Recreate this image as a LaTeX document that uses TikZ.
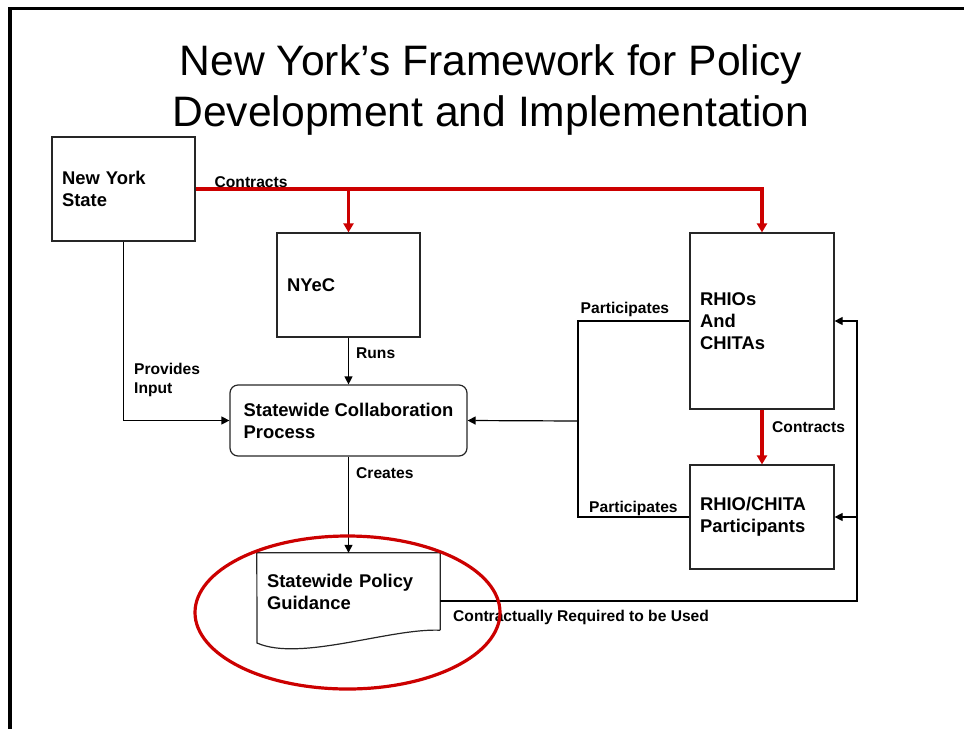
\documentclass[tikz,border=0pt]{standalone}
\usepackage{fontspec}
\setmainfont{Liberation Sans}
\usetikzlibrary{arrows.meta}

\definecolor{accent}{RGB}{204,0,0}
\newcommand\boxfont{\bfseries\fontsize{18.4}{22}\selectfont}
\newcommand\tagfont{\bfseries\fontsize{15.6}{19}\selectfont}
\newcommand\headfont{\fontsize{42.6}{50}\selectfont}

\begin{document}
\begin{tikzpicture}[x=1pt,y=-1pt,
  boxline/.style={draw=black!85, line width=1.2pt},
  stepbox/.style={boxline, align=left, font=\boxfont, inner xsep=10pt, inner ysep=0pt},
  tag/.style={font=\tagfont, anchor=base west, inner sep=0pt, align=left},
  flow/.style={draw=black, line width=1.2pt, -{Triangle[length=8pt,width=8pt]}},
  plain/.style={draw=black, line width=1.2pt},
  contract/.style={draw=accent, line width=3.4pt, -{Triangle[length=9pt,width=10pt]}},
]
\useasboundingbox (0,0) rectangle (964,729);

% frame
\draw[line width=3.8pt] (964,8.5) -- (10,8.5) -- (10,729);

% heading
\node[font=\headfont, anchor=base, inner sep=0pt] (head1) at (491,75.5) {New York’s Framework for Policy};
\node[font=\headfont, anchor=base, inner sep=0pt] (head2) at (491,126) {Development and Implementation};

% boxes
\node[stepbox, text width=123pt, minimum height=104pt] (nys) at (123.5,189) {New York\\State};
\node[stepbox, text width=123pt, minimum height=104pt] (nyec) at (348.5,285) {NYeC};
\node[stepbox, text width=124pt, minimum height=176pt] (rhio) at (762,321) {RHIOs\\And\\CHITAs};
\node[stepbox, text width=124pt, minimum height=104pt] (rhiop) at (762,517) {RHIO/CHITA\\Participants};
\node[boxline, rounded corners=8pt, align=left, font=\boxfont, minimum width=237pt, minimum height=71pt, inner sep=0pt] (scp) at (348.5,420.5) {Statewide Collaboration\\Process};
\node[align=left, font=\boxfont, text width=163pt, inner xsep=10pt, inner ysep=0pt, minimum height=77pt] (spg) at (348.5,591.5) {Statewide Policy\\Guidance};
% document outline with wavy lower edge
\draw[boxline] (spg.south east) -- (spg.north east) -- (spg.north west) -- (257,643)
  .. controls (300,662) and (390,628) .. (spg.south east);

% contracts from the State
\draw[contract] (nys.east) -| (rhio.north);
\draw[contract] (nys.east -| nyec.north) -- (nyec.north);
\node[tag] (tContracts) at (214.5,187) {Contracts};

% provides input
\draw[flow] (nys.south) |- (scp.west);
\node[tag] (tProvides) at (134,393) {Provides\\Input};

% runs
\draw[flow] (nyec.south) -- (scp.north);
\node[tag] (tRuns) at (356,358) {Runs};

% creates
\draw[flow] (scp.south) -- (spg.north);
\node[tag] (tCreates) at (356,478) {Creates};

% participation
\coordinate (pj) at (578,421);
\draw[plain] (rhio.west) -| (pj) |- (rhiop.west);
\draw[flow] (pj) -- (scp.east);
\node[tag] (tPart1) at (580.5,313) {Participates};
\node[tag] (tPart2) at (589,512.5) {Participates};

% RHIO contracts with participants
\draw[contract] (rhio.south) -- (rhiop.north);
\node[tag] (tContracts2) at (772,432.5) {Contracts};

% guidance required to be used
\coordinate (cr) at (857,601);
\draw[flow] (spg.east |- cr) -- (cr) |- (rhio.east);
\draw[flow] (cr |- rhiop.east) -- (rhiop.east);
\node[tag] (tRequired) at (453,621.5) {Contractually Required to be Used};

% highlight around the guidance
\draw[accent, line width=3.2pt] (347.5,612.5) ellipse [x radius=152.5pt, y radius=76.5pt];
\end{tikzpicture}
\end{document}
